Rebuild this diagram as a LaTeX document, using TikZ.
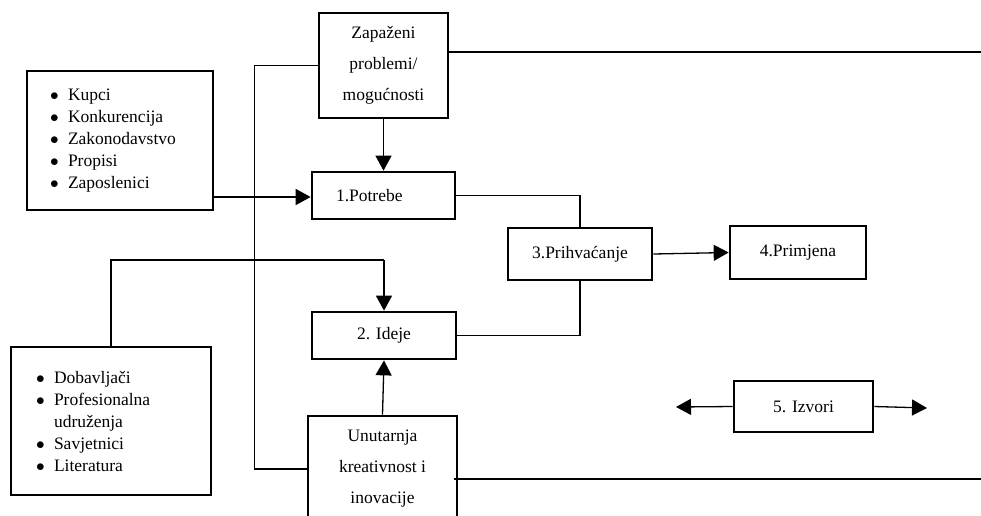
\documentclass[tikz,border=0pt]{standalone}
\usepackage{fontspec}
\setmainfont{Liberation Serif}
\usetikzlibrary{arrows.meta,calc}
\newcommand\blt[1]{\makebox[18pt][l]{$\bullet$}#1}
\begin{document}
\begin{tikzpicture}[x=1pt,y=-1pt,
  box/.style={draw, line width=2.7pt, inner sep=0pt, align=center, font=\fontsize{17.5}{31}\selectfont},
  listbox/.style={draw, line width=2.7pt, inner ysep=0pt, align=left, font=\fontsize{17.5}{22}\selectfont},
  conn/.style={line width=1.3pt},
  arr/.style={conn, -{Triangle[length=15pt,width=16pt]}}]
\useasboundingbox (0,0) rectangle (981,515);

% nodes
\node[box, minimum width=129pt, minimum height=105pt] (zap) at (383.5,65.5) {Zapaženi\\problemi/\\mogućnosti};
\node[listbox, minimum height=139pt, text width=140pt, inner xsep=23pt] (kup) at (120,140.5)
  {\blt{Kupci}\\\blt{Konkurencija}\\\blt{Zakonodavstvo}\\\blt{Propisi}\\\blt{Zaposlenici}};
\node[box, minimum width=143pt, minimum height=47pt, text width=95pt, inner xsep=24pt, align=left] (pot) at (383.5,195.5) {1.Potrebe};
\node[box, minimum width=144pt, minimum height=52pt] (pri) at (580,254) {3.Prihvaćanje};
\node[box, minimum width=136pt, minimum height=53pt] (prim) at (798,252.5) {4.Primjena};
\node[box, minimum width=144pt, minimum height=47pt] (ide) at (384,335.5) {2. Ideje};
\node[listbox, minimum height=148pt, text width=150pt, inner xsep=25pt] (dob) at (111,421)
  {\blt{Dobavljači}\\\blt{Profesionalna}\\\hspace*{18pt}udruženja\\\blt{Savjetnici}\\\blt{Literatura}};
\node[box, minimum width=149pt, minimum height=106pt] (unu) at (382.5,469) {Unutarnja\\kreativnost i\\inovacije};
\node[box, minimum width=139pt, minimum height=51pt] (izv) at (803.5,406.5) {5. Izvori};

% helper coordinates
\coordinate (rt1) at (981,52);
\coordinate (rt2) at (981,479);
\coordinate (c1) at (384,260);
\coordinate (izl) at (676,407);
\coordinate (izr) at (927,408);

% connectors
\draw[arr] (zap.south) -- (pot.north);
\draw[arr] (kup.east |- 0,197) -- (pot.west |- 0,197);
\draw[conn] (zap.west) -- ++(-63,0) |- (unu.west);
\draw[conn] (zap.east |- rt1) -- (rt1);
\draw[conn] (pot.east) -| (pri.north);
\draw[conn] (pri.south) |- (ide.east);
\draw[arr] (pri.east) -- (prim.west);
\draw[conn] (dob.north) |- (c1);
\draw[arr] (c1) -- (ide.north);
\draw[arr] (unu.north) -- (ide.south);
\draw[conn] ($(unu.east |- rt2)+(-4,0)$) -- (rt2);
\draw[arr] (izv.west) -- (izl);
\draw[arr] (izv.east) -- (izr);
\end{tikzpicture}
\end{document}
